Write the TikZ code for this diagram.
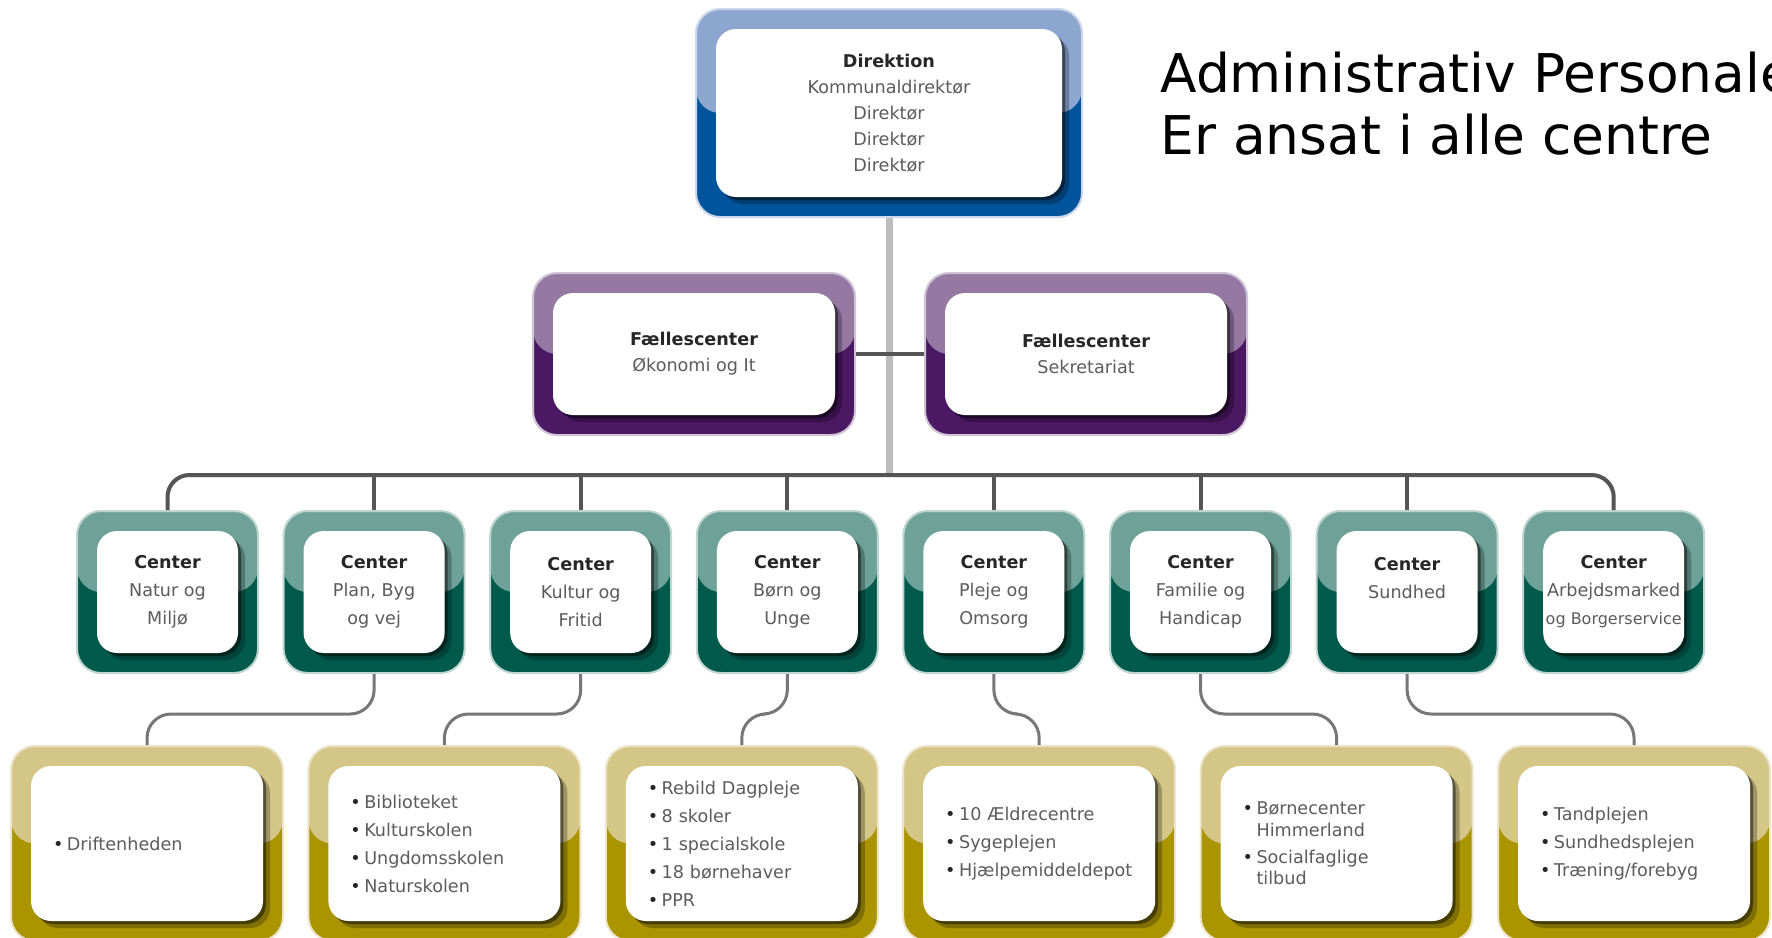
\documentclass[tikz,border=0pt]{standalone}
\usepackage{fontspec}
\setmainfont{DejaVu Sans}
\usetikzlibrary{positioning,shadows}

\definecolor{dirLight}{HTML}{8CA6D0}
\definecolor{dirDark}{HTML}{00549C}
\definecolor{fcLight}{HTML}{9579A3}
\definecolor{fcDark}{HTML}{4B1864}
\definecolor{cLight}{HTML}{6EA298}
\definecolor{cDark}{HTML}{005A4B}
\definecolor{uLight}{HTML}{D4C687}
\definecolor{uDark}{HTML}{AA9400}
\definecolor{linegray}{HTML}{555555}
\definecolor{stemgray}{HTML}{BDBDBD}
\definecolor{textgray}{HTML}{5C5C5C}
\definecolor{headgray}{HTML}{262626}

\newcommand{\hd}[1]{\textcolor{headgray}{\bfseries #1}}
\newcommand{\pkt}{\textcolor{headgray}{\textbullet}\hspace{0.2em}}
\newcommand{\ind}{\phantom{\textbullet}\hspace{0.2em}}

\tikzset{
  frame/.style 2 args={inner sep=0pt, rounded corners=12pt, fill=#2, draw=#1!45, line width=1pt,
    path picture={\fill[#1] (path picture bounding box.north west) rectangle (path picture bounding box.east);}},
  card/.style={fill=white, rounded corners=10pt, inner sep=0pt, text=textgray, align=center,
    drop shadow={shadow xshift=3.5pt, shadow yshift=-3.5pt, opacity=.25, fill=black},
    drop shadow={shadow xshift=1.5pt, shadow yshift=-1.5pt, opacity=.45, fill=black}},
  dirbox/.style={frame={dirLight}{dirDark}, minimum width=193pt, minimum height=104pt},
  dirkort/.style={card, minimum width=173pt, minimum height=84pt, font=\fontsize{8.8}{13}\selectfont},
  fcbox/.style={frame={fcLight}{fcDark}, minimum width=161pt, minimum height=81pt},
  fckort/.style={card, minimum width=141pt, minimum height=61pt, font=\fontsize{8.8}{13}\selectfont},
  cbox/.style={frame={cLight}{cDark}, minimum width=90.5pt, minimum height=81pt},
  ckort/.style={card, minimum width=70.5pt, minimum height=61pt, font=\fontsize{8.8}{14}\selectfont},
  ubox/.style={frame={uLight}{uDark}, minimum width=136pt, minimum height=97.5pt},
  ukort/.style={card, minimum width=116pt, minimum height=77.5pt, inner xsep=11pt, text width=94pt,
    align=left, font=\fontsize{8.8}{10.7}\selectfont}
}

\begin{document}
\begin{tikzpicture}[x=0.5pt, y=-0.5pt,
    linje/.style={draw=linegray, line width=2pt},
    stamme/.style={draw=stemgray, line width=3.5pt},
    gren/.style={draw=linegray!80, line width=1.5pt, rounded corners=12pt}]
  \useasboundingbox (0,0) rectangle (1772,937);
  \clip (0,0) rectangle (1772,937);
  \fill[white] (0,0) rectangle (1772,937);

  \node[dirbox] (direktion) at (889,113) {};
  \node[dirkort] (direktionk) at (direktion) {\hd{Direktion}\\Kommunaldirektør\\Direktør\\Direktør\\Direktør};

  \node[fcbox] (oekonomi) at (694,354) {};
  \node[fckort] (oekonomik) at (oekonomi) {\hd{Fællescenter}\\Økonomi og It};
  \node[fcbox, right=34pt of oekonomi] (sekretariat) {};
  \node[fckort] (sekretariatk) at (sekretariat) {\hd{Fællescenter}\\Sekretariat};

  % centre row
  \foreach \navn [count=\i] in {{Natur og\\Miljø}, {Plan, Byg\\og vej}, {Kultur og\\Fritid},
      {Børn og\\Unge}, {Pleje og\\Omsorg}, {Familie og\\Handicap}, {Sundhed\\\mbox{}},
      {Arbejdsmarked\\{\fontsize{8}{14}\selectfont og Borgerservice}}} {
    \node[cbox] (c\i) at ({167.5+206.6*(\i-1)},592) {};
    \node[ckort] (k\i) at (c\i) {\hd{Center}\\\navn};
  }

  % units under the centres
  \foreach \liste [count=\j] in {
      {\pkt Driftenheden},
      {\pkt Biblioteket\\[3.3pt]\pkt Kulturskolen\\[3.3pt]\pkt Ungdomsskolen\\[3.3pt]\pkt Naturskolen},
      {\pkt Rebild Dagpleje\\[3.3pt]\pkt 8 skoler\\[3.3pt]\pkt 1 specialskole\\[3.3pt]\pkt 18 børnehaver\\[3.3pt]\pkt PPR},
      {\pkt 10 Ældrecentre\\[3.3pt]\pkt Sygeplejen\\[3.3pt]\pkt Hjælpemiddeldepot},
      {\pkt Børnecenter\\\ind Himmerland\\[3pt]\pkt Socialfaglige\\\ind tilbud},
      {\pkt Tandplejen\\[3.3pt]\pkt Sundhedsplejen\\[3.3pt]\pkt Træning/forebyg}} {
    \node[ubox] (u\j) at ({147+297.4*(\j-1)},843.5) {};
    \node[ukort] (l\j) at (u\j) {\liste};
  }

  \node[anchor=north west, inner sep=0pt, align=left, font=\fontsize{26.7}{31}\selectfont] (admin)
    at (1160,52) {Administrativ Personale\\Er ansat i alle centre};

  \coordinate (bus) at (889,475);
  \draw[stamme] (direktion.south) -- (bus);
  \draw[linje] (oekonomi) -- (sekretariat);
  \draw[linje, rounded corners=11pt] (c1.north) |- (bus) -| (c8.north);
  \foreach \i in {2,...,7}
    \draw[linje] (c\i.north) -- (c\i.north |- bus);
  \foreach \ci/\ui in {2/1,3/2,4/3,5/4,6/5,7/6}
    \draw[gren] (c\ci.south) -- ++(0,40) -| (u\ui.north);
\end{tikzpicture}
\end{document}
